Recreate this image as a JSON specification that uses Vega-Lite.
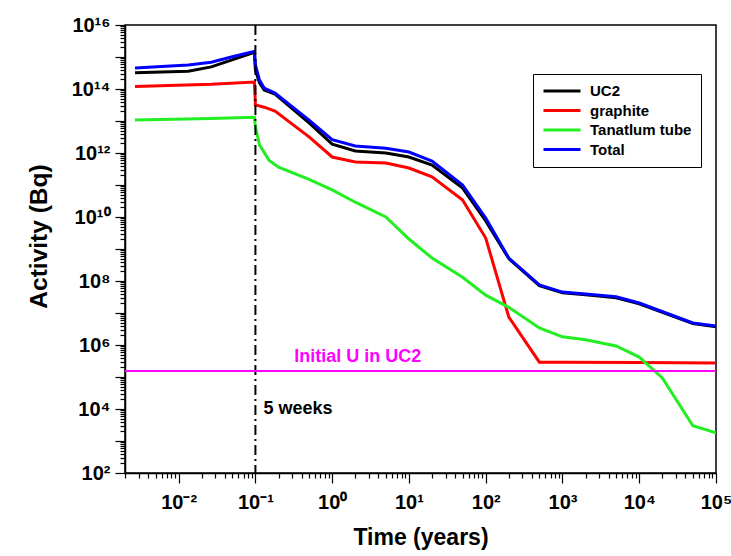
{
  "$schema": "https://vega.github.io/schema/vega-lite/v6.json",
  "width": 591,
  "height": 448,
  "autosize": {"type": "none"},
  "padding": {"left": 125, "top": 25, "right": 15, "bottom": 83},
  "config": {
    "font": "Liberation Sans",
    "view": {"stroke": "#000000", "strokeWidth": 1.5},
    "axis": {"grid": false, "domainColor": "#000000", "domainWidth": 1.5, "tickColor": "#000000", "tickWidth": 1.2,
             "labelFont": "Liberation Sans", "labelFontWeight": "bold", "labelFontSize": 20, "labelColor": "#000000",
             "titleFont": "Liberation Sans", "titleFontWeight": "bold", "titleFontSize": 23, "titleColor": "#000000",
             "labelOverlap": false, "labelFlush": false}
  },
  "datasets": {
    "series": [
      {"t": 0.0027, "activity": 3.2e14, "component": "UC2"},
      {"t": 0.0133, "activity": 3.6e14, "component": "UC2"},
      {"t": 0.0266, "activity": 4.9e14, "component": "UC2"},
      {"t": 0.0486, "activity": 8.0e14, "component": "UC2"},
      {"t": 0.097, "activity": 1.4e15, "component": "UC2"},
      {"t": 0.1, "activity": 3.9e14, "component": "UC2"},
      {"t": 0.113, "activity": 1.55e14, "component": "UC2"},
      {"t": 0.13, "activity": 9.3e13, "component": "UC2"},
      {"t": 0.18, "activity": 6.9e13, "component": "UC2"},
      {"t": 0.5, "activity": 8.7e12, "component": "UC2"},
      {"t": 1, "activity": 1.9e12, "component": "UC2"},
      {"t": 2, "activity": 1.15e12, "component": "UC2"},
      {"t": 5, "activity": 1.0e12, "component": "UC2"},
      {"t": 10, "activity": 7.5e11, "component": "UC2"},
      {"t": 20, "activity": 4.2e11, "component": "UC2"},
      {"t": 50, "activity": 8.0e10, "component": "UC2"},
      {"t": 100, "activity": 7.5e9, "component": "UC2"},
      {"t": 200, "activity": 5.0e8, "component": "UC2"},
      {"t": 500, "activity": 7.2e7, "component": "UC2"},
      {"t": 1000, "activity": 4.3e7, "component": "UC2"},
      {"t": 2000, "activity": 3.7e7, "component": "UC2"},
      {"t": 5000, "activity": 3.0e7, "component": "UC2"},
      {"t": 10000, "activity": 1.95e7, "component": "UC2"},
      {"t": 50000, "activity": 4.7e6, "component": "UC2"},
      {"t": 100000, "activity": 3.7e6, "component": "UC2"},

      {"t": 0.0027, "activity": 1.2e14, "component": "graphite"},
      {"t": 0.0266, "activity": 1.4e14, "component": "graphite"},
      {"t": 0.097, "activity": 1.65e14, "component": "graphite"},
      {"t": 0.1, "activity": 3.2e13, "component": "graphite"},
      {"t": 0.13, "activity": 2.7e13, "component": "graphite"},
      {"t": 0.18, "activity": 2.05e13, "component": "graphite"},
      {"t": 0.5, "activity": 3.2e12, "component": "graphite"},
      {"t": 1, "activity": 7.5e11, "component": "graphite"},
      {"t": 2, "activity": 5.2e11, "component": "graphite"},
      {"t": 5, "activity": 4.9e11, "component": "graphite"},
      {"t": 10, "activity": 3.4e11, "component": "graphite"},
      {"t": 20, "activity": 1.8e11, "component": "graphite"},
      {"t": 50, "activity": 3.4e10, "component": "graphite"},
      {"t": 100, "activity": 2.2e9, "component": "graphite"},
      {"t": 200, "activity": 7.5e6, "component": "graphite"},
      {"t": 500, "activity": 2.9e5, "component": "graphite"},
      {"t": 1000, "activity": 2.9e5, "component": "graphite"},
      {"t": 10000, "activity": 2.85e5, "component": "graphite"},
      {"t": 100000, "activity": 2.75e5, "component": "graphite"},

      {"t": 0.0027, "activity": 1.07e13, "component": "Tanatlum tube"},
      {"t": 0.0266, "activity": 1.2e13, "component": "Tanatlum tube"},
      {"t": 0.097, "activity": 1.3e13, "component": "Tanatlum tube"},
      {"t": 0.1, "activity": 6.5e12, "component": "Tanatlum tube"},
      {"t": 0.113, "activity": 1.8e12, "component": "Tanatlum tube"},
      {"t": 0.15, "activity": 6.0e11, "component": "Tanatlum tube"},
      {"t": 0.2, "activity": 3.6e11, "component": "Tanatlum tube"},
      {"t": 0.5, "activity": 1.5e11, "component": "Tanatlum tube"},
      {"t": 1, "activity": 7.0e10, "component": "Tanatlum tube"},
      {"t": 2, "activity": 2.9e10, "component": "Tanatlum tube"},
      {"t": 5, "activity": 1.0e10, "component": "Tanatlum tube"},
      {"t": 10, "activity": 2.05e9, "component": "Tanatlum tube"},
      {"t": 20, "activity": 5.2e8, "component": "Tanatlum tube"},
      {"t": 50, "activity": 1.3e8, "component": "Tanatlum tube"},
      {"t": 100, "activity": 3.6e7, "component": "Tanatlum tube"},
      {"t": 200, "activity": 1.5e7, "component": "Tanatlum tube"},
      {"t": 500, "activity": 3.4e6, "component": "Tanatlum tube"},
      {"t": 1000, "activity": 1.8e6, "component": "Tanatlum tube"},
      {"t": 2000, "activity": 1.45e6, "component": "Tanatlum tube"},
      {"t": 5000, "activity": 9.3e5, "component": "Tanatlum tube"},
      {"t": 10000, "activity": 4.2e5, "component": "Tanatlum tube"},
      {"t": 20000, "activity": 9.3e4, "component": "Tanatlum tube"},
      {"t": 50000, "activity": 3.0e3, "component": "Tanatlum tube"},
      {"t": 100000, "activity": 1.8e3, "component": "Tanatlum tube"},

      {"t": 0.0027, "activity": 4.5e14, "component": "Total"},
      {"t": 0.0133, "activity": 5.6e14, "component": "Total"},
      {"t": 0.0266, "activity": 6.9e14, "component": "Total"},
      {"t": 0.0486, "activity": 1.0e15, "component": "Total"},
      {"t": 0.097, "activity": 1.5e15, "component": "Total"},
      {"t": 0.1, "activity": 5.6e14, "component": "Total"},
      {"t": 0.113, "activity": 1.9e14, "component": "Total"},
      {"t": 0.13, "activity": 1.07e14, "component": "Total"},
      {"t": 0.18, "activity": 7.5e13, "component": "Total"},
      {"t": 0.5, "activity": 1.07e13, "component": "Total"},
      {"t": 1, "activity": 2.6e12, "component": "Total"},
      {"t": 2, "activity": 1.65e12, "component": "Total"},
      {"t": 5, "activity": 1.4e12, "component": "Total"},
      {"t": 10, "activity": 1.07e12, "component": "Total"},
      {"t": 20, "activity": 5.6e11, "component": "Total"},
      {"t": 50, "activity": 1.0e11, "component": "Total"},
      {"t": 100, "activity": 9.3e9, "component": "Total"},
      {"t": 200, "activity": 5.2e8, "component": "Total"},
      {"t": 500, "activity": 7.5e7, "component": "Total"},
      {"t": 1000, "activity": 4.5e7, "component": "Total"},
      {"t": 2000, "activity": 3.9e7, "component": "Total"},
      {"t": 5000, "activity": 3.2e7, "component": "Total"},
      {"t": 10000, "activity": 2.05e7, "component": "Total"},
      {"t": 50000, "activity": 4.9e6, "component": "Total"},
      {"t": 100000, "activity": 3.9e6, "component": "Total"}
    ],
    "shutdown": [{"t": 0.1}],
    "initialU": [{"activity": 1.55e5}],
    "notes": [
      {"t": 0.32, "activity": 2.9e5, "label": "Initial U in UC2", "kind": "u"},
      {"t": 0.127, "activity": 6.9e3, "label": "5 weeks", "kind": "w"}
    ]
  },
  "layer": [
    {
      "data": {"name": "series"},
      "mark": {"type": "line", "strokeWidth": 3, "clip": true},
      "encoding": {
        "x": {
          "field": "t", "type": "quantitative",
          "scale": {"type": "log", "domain": [0.002, 100000], "nice": false},
          "axis": {
            "title": "Time (years)", "titlePadding": 14, "titleFontSize": 23,
            "values": [0.002,0.003,0.004,0.005,0.006,0.007,0.008,0.009,0.01,0.02,0.03,0.04,0.05,0.06,0.07,0.08,0.09,0.1,0.2,0.3,0.4,0.5,0.6,0.7,0.8,0.9,1,2,3,4,5,6,7,8,9,10,20,30,40,50,60,70,80,90,100,200,300,400,500,600,700,800,900,1000,2000,3000,4000,5000,6000,7000,8000,9000,10000,20000,30000,40000,50000,60000,70000,80000,90000,100000],
            "tickSize": {"condition": {"test": "abs(log(datum.value)/LN10 - round(log(datum.value)/LN10)) < 0.01", "value": 10}, "value": 5},
            "labelExpr": "abs(log(datum.value)/LN10 - round(log(datum.value)/LN10)) < 0.01 ? ['10⁻²','10⁻¹','10⁰','10¹','10²','10³','10⁴','10⁵'][round(log(datum.value)/LN10) + 2] : ''",
            "labelPadding": 9
          }
        },
        "y": {
          "field": "activity", "type": "quantitative",
          "scale": {"type": "log", "domain": [100, 1e16], "nice": false},
          "axis": {
            "title": "Activity (Bq)", "titlePadding": 20, "titleFontSize": 24.5, "titleY": 211,
            "values": [100,200,300,400,500,600,700,800,900,1e3,2e3,3e3,4e3,5e3,6e3,7e3,8e3,9e3,1e4,2e4,3e4,4e4,5e4,6e4,7e4,8e4,9e4,1e5,2e5,3e5,4e5,5e5,6e5,7e5,8e5,9e5,1e6,2e6,3e6,4e6,5e6,6e6,7e6,8e6,9e6,1e7,2e7,3e7,4e7,5e7,6e7,7e7,8e7,9e7,1e8,2e8,3e8,4e8,5e8,6e8,7e8,8e8,9e8,1e9,2e9,3e9,4e9,5e9,6e9,7e9,8e9,9e9,1e10,2e10,3e10,4e10,5e10,6e10,7e10,8e10,9e10,1e11,2e11,3e11,4e11,5e11,6e11,7e11,8e11,9e11,1e12,2e12,3e12,4e12,5e12,6e12,7e12,8e12,9e12,1e13,2e13,3e13,4e13,5e13,6e13,7e13,8e13,9e13,1e14,2e14,3e14,4e14,5e14,6e14,7e14,8e14,9e14,1e15,2e15,3e15,4e15,5e15,6e15,7e15,8e15,9e15,1e16],
            "tickSize": {"condition": {"test": "abs(log(datum.value)/LN10 - round(log(datum.value)/LN10)) < 0.01", "value": 10}, "value": 5},
            "labelExpr": "(abs(log(datum.value)/LN10 - round(log(datum.value)/LN10)) < 0.01 && round(log(datum.value)/LN10) % 2 == 0) ? '10' + ['⁰','¹','²','³','⁴','⁵','⁶','⁷','⁸','⁹','¹⁰','¹¹','¹²','¹³','¹⁴','¹⁵','¹⁶'][round(log(datum.value)/LN10)] : ''",
            "labelPadding": 5
          }
        },
        "color": {
          "field": "component", "type": "nominal",
          "scale": {"domain": ["UC2", "graphite", "Tanatlum tube", "Total"], "range": ["#000000", "#ff0000", "#22ee22", "#0000ff"]},
          "legend": {
            "title": null, "orient": "none", "legendX": 408, "legendY": 49,
            "strokeColor": "#000000", "fillColor": "#ffffff", "padding": 9,
            "symbolType": "stroke", "symbolStrokeWidth": 3, "symbolSize": 1369,
            "clipHeight": 16, "rowPadding": 3.5, "labelOffset": 8,
            "labelFont": "Liberation Sans", "labelFontWeight": "bold", "labelFontSize": 15, "labelColor": "#000000"
          }
        }
      }
    },
    {
      "data": {"name": "shutdown"},
      "mark": {"type": "rule", "color": "#000000", "strokeWidth": 2, "strokeDash": [10, 4, 2, 4]},
      "encoding": {
        "x": {"field": "t", "type": "quantitative", "scale": {"type": "log", "domain": [0.002, 100000], "nice": false}}
      }
    },
    {
      "data": {"name": "initialU"},
      "mark": {"type": "rule", "color": "#ff00ff", "strokeWidth": 2},
      "encoding": {
        "y": {"field": "activity", "type": "quantitative", "scale": {"type": "log", "domain": [100, 1e16], "nice": false}}
      }
    },
    {
      "data": {"name": "notes"},
      "mark": {"type": "text", "align": "left", "baseline": "alphabetic", "font": "Liberation Sans", "fontWeight": "bold", "fontSize": 18},
      "encoding": {
        "x": {"field": "t", "type": "quantitative", "scale": {"type": "log", "domain": [0.002, 100000], "nice": false}},
        "y": {"field": "activity", "type": "quantitative", "scale": {"type": "log", "domain": [100, 1e16], "nice": false}},
        "text": {"field": "label"},
        "color": {"field": "kind", "type": "nominal", "scale": {"domain": ["u", "w"], "range": ["#ff00ff", "#000000"]}, "legend": null}
      }
    }
  ],
  "resolve": {"scale": {"color": "independent"}}
}
